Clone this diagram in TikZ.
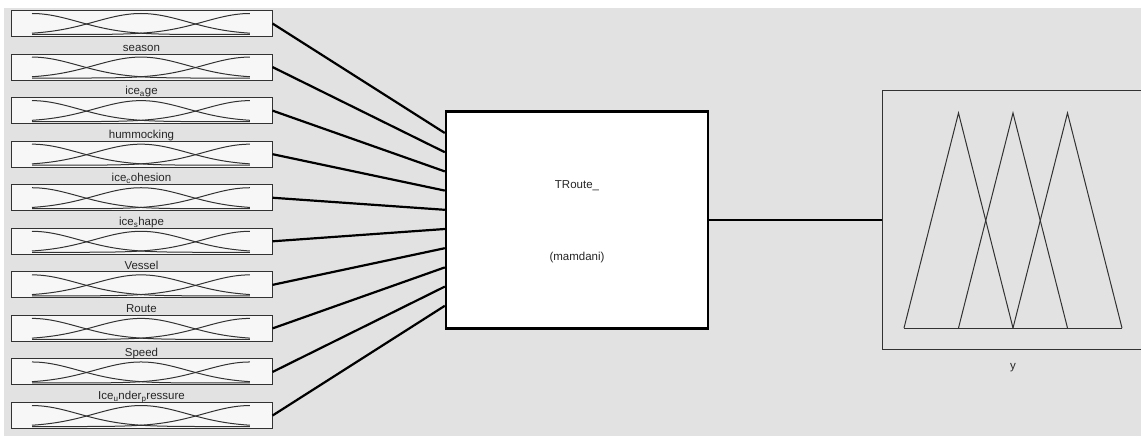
\documentclass[tikz,border=0pt]{standalone}
\usepackage{fontspec}
\setmainfont{Liberation Sans}
\usepackage{tikz}
\usetikzlibrary{positioning}
\definecolor{panel}{RGB}{226,226,226}
\definecolor{mfpane}{RGB}{247,247,247}
\definecolor{mfline}{RGB}{50,50,50}
\tikzstyle{inbox} = [rectangle, draw=mfline, fill=mfpane, line width=1pt,
    minimum width=261pt, minimum height=26pt, inner sep=0pt]
\tikzstyle{fisbox} = [rectangle, draw=black, fill=white, line width=2.4pt,
    minimum width=262pt, minimum height=217pt, inner sep=0pt]
\tikzstyle{outbox} = [rectangle, draw=mfline, fill=panel, line width=1pt,
    minimum width=288pt, minimum height=259pt, inner sep=0pt]
\tikzstyle{varlabel} = [font=\fontsize{11.5}{13}\selectfont, inner sep=0pt,
    text height=8pt, text depth=2pt, text=black!85]
\tikzstyle{wire} = [draw, line width=2.2pt]
\tikzstyle{mf} = [draw=mfline, line width=1pt]

\begin{document}
\begin{tikzpicture}[x=1pt, y=-1pt]
  \useasboundingbox (0,0) rectangle (1141,436);
  \clip (0,0) rectangle (1141,436);
  \fill [panel] (4,8) rectangle (1141,436);
  % Place nodes
  \node [fisbox] (fis) at (577,220) {};
  \node [varlabel] (fisname) at ([yshift=35pt]fis.center) {TRoute\_};
  \node [varlabel] (fistype) at ([yshift=-37pt]fis.center) {(mamdani)};
  \node [outbox] (out) at (1026,220) {};
  \node [varlabel, below=11pt of out, xshift=-13pt] (outlabel) {y};
  \foreach \i in {1,...,10} {
    \pgfmathsetmacro\boxtop{10.5+43.56*(\i-1)}
    \node [inbox] (in\i) at (141.5,\boxtop+13) {};
    % membership functions
    \foreach \c in {0,0.5,1}
      \draw [mf] plot [domain=0:1, samples=61, smooth]
        ({32+218*\x}, {\boxtop+3+21*(1-exp(0-(\x-\c)*(\x-\c)/0.0901))});
    % Draw edges
    \path [wire] (in\i.east) -- ([yshift={(87-19.2*(\i-1))*1pt}]fis.west);
  }
  \foreach \name [count=\i] in {season, {ice\textsubscript{a}ge}, hummocking,
      {ice\textsubscript{c}ohesion}, {ice\textsubscript{s}hape}, Vessel, Route,
      Speed, {Ice\textsubscript{u}nder\textsubscript{p}ressure}}
    \node [varlabel, below=6pt of in\i] (lab\i) {\name};
  \path [wire] (fis.east) -- (out.west);
  % output membership functions
  \draw [mf] (904,328) -- (1122,328);
  \foreach \p in {958.5,1013,1067.5}
    \draw [mf, line join=miter] (\p-54.5,328) -- (\p,113) -- (\p+54.5,328);
\end{tikzpicture}
\end{document}
